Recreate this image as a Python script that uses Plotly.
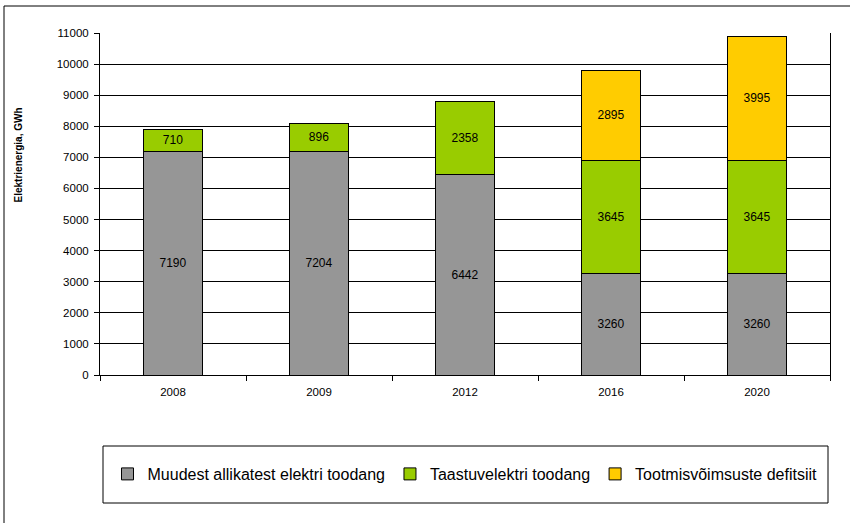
import plotly.graph_objects as go

years = ["2008", "2009", "2012", "2016", "2020"]
other_sources = [7190, 7204, 6442, 3260, 3260]
renewable = [710, 896, 2358, 3645, 3645]
deficit = [None, None, None, 2895, 3995]

series = [
    ("Muudest allikatest elektri toodang", other_sources, "#969696"),
    ("Taastuvelektri toodang", renewable, "#99CC00"),
    ("Tootmisvõimsuste defitsiit", deficit, "#FFCC00"),
]

FONT = "Liberation Sans, Arial, sans-serif"

# page is 850x523; plot area spans x 100..830, y 33..375 (pixels)
W, H = 850, 523
L, R, T, B = 100, 20, 33, 148
PW, PH = W - L - R, H - T - B


def px_x(x):
    return (x - L) / PW


def px_y(y):
    return (H - B - y) / PH


fig = go.Figure()
for name, vals, col in series:
    fig.add_trace(go.Bar(
        x=years,
        y=vals,
        name=name,
        marker=dict(color=col, line=dict(color="black", width=1)),
        text=[str(v) if v is not None else "" for v in vals],
        textposition="inside",
        insidetextanchor="middle",
        textangle=0,
        textfont=dict(color="black", size=12, family=FONT),
        constraintext="none",
    ))

fig.update_layout(
    width=W, height=H,
    barmode="stack",
    bargap=0.6,
    paper_bgcolor="white",
    plot_bgcolor="white",
    font=dict(family=FONT, color="black", size=11.5),
    margin=dict(l=L, r=R, t=T, b=B),
    legend=dict(
        orientation="h",
        x=0.5, xanchor="center",
        y=px_y(474), yanchor="middle",
        font=dict(size=16, family=FONT),
        bgcolor="rgba(0,0,0,0)",
        traceorder="normal",
        itemwidth=30,
    ),
    xaxis=dict(
        type="category",
        showline=True, linecolor="black", linewidth=1,
        ticks="outside", tickson="boundaries", ticklen=5, tickcolor="black",
        showgrid=False,
        tickfont=dict(size=11.5),
        ticklabelstandoff=6,
    ),
    yaxis=dict(
        range=[0, 11000], dtick=1000, tickformat="d",
        showline=True, linecolor="black", linewidth=1, mirror=True,
        ticks="outside", ticklen=5, tickcolor="black",
        showgrid=True, gridcolor="black", gridwidth=1,
        zeroline=False,
        tickfont=dict(size=11.5),
        ticklabelstandoff=3,
    ),
    annotations=[
        dict(text="<b>Elektrienergia, GWh</b>", textangle=-90,
             xref="paper", yref="paper", x=px_x(18), y=px_y(155.5),
             xanchor="center", yanchor="middle", showarrow=False,
             font=dict(size=10)),
    ],
    shapes=[
        # legend frame
        dict(type="rect", xref="paper", yref="paper",
             x0=px_x(103), x1=px_x(828), y0=px_y(503), y1=px_y(446),
             line=dict(color="black", width=1)),
        # outer chart frame
        dict(type="rect", xref="paper", yref="paper",
             x0=px_x(4), x1=px_x(900), y0=px_y(600), y1=px_y(6),
             line=dict(color="black", width=1)),
    ],
)

fig.write_html("out.html", config={"displayModeBar": False},
               post_script="document.body.style.margin='0';")
